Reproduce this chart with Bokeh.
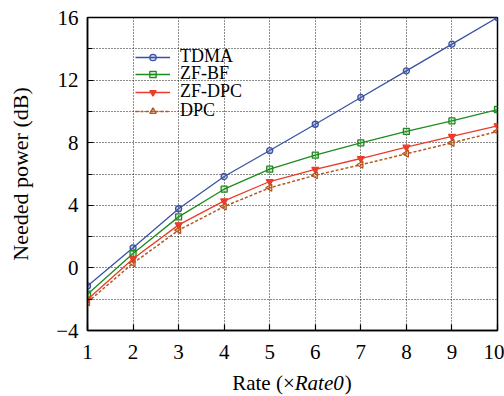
import numpy as np
from bokeh.plotting import figure
from bokeh.layouts import column
from bokeh.models import (Range1d, FixedTicker, Legend, LegendItem)
from bokeh.core.properties import value
from bokeh.embed import file_html
from bokeh.resources import INLINE

rate = [1, 2, 3, 4, 5, 6, 7, 8, 9, 10]
tdma = [-1.15, 1.28, 3.78, 5.84, 7.50, 9.18, 10.89, 12.59, 14.30, 16.0]
zfbf = [-1.68, 0.92, 3.26, 5.03, 6.31, 7.20, 7.99, 8.72, 9.40, 10.12]
zfdpc = [-2.02, 0.58, 2.75, 4.28, 5.52, 6.29, 6.99, 7.71, 8.40, 9.08]
dpc = [-2.19, 0.30, 2.41, 3.92, 5.12, 5.92, 6.59, 7.29, 7.99, 8.72]
series_names = ["TDMA", "ZF-BF", "ZF-DPC", "DPC"]
y_major = [-4, 0, 4, 8, 12, 16]
y_minor = [-2, 2, 6, 10, 14]
y_grid = [-4, -2, 0, 2, 4, 6, 8, 10, 12, 14, 16]
y_labels = {-4: "\u22124"}
x_ticks = [1, 2, 3, 4, 5, 6, 7, 8, 9, 10]
x_label_parts = ["Rate (\u00d7", "Rate0", ")"]

FONT = "Liberation Serif"

p = figure(width=504, height=372, output_backend="svg", toolbar_location=None,
           x_range=Range1d(1, 10), y_range=Range1d(-4, 16),
           min_border_left=87, min_border_right=7, min_border_top=17, min_border_bottom=42)
p.outline_line_color = "black"
p.outline_line_width = 1.5
p.background_fill_color = "white"

for ax in p.xaxis:
    ax.ticker = FixedTicker(ticks=x_ticks)
    ax.major_label_standoff = 14
for ax in p.yaxis:
    ax.ticker = FixedTicker(ticks=y_major, minor_ticks=y_minor)
    ax.major_label_overrides = y_labels
    ax.major_label_standoff = 9

for ax in list(p.xaxis) + list(p.yaxis):
    ax.major_tick_in = 6
    ax.major_tick_out = 0
    ax.minor_tick_in = 5
    ax.minor_tick_out = 0
    ax.axis_line_color = "black"
    ax.axis_line_width = 1.5
    ax.major_tick_line_color = "black"
    ax.major_tick_line_width = 1.2
    ax.minor_tick_line_color = "black"
    ax.minor_tick_line_width = 1.2
    ax.major_label_text_font = FONT
    ax.major_label_text_font_size = "21px"
    ax.major_label_text_color = "black"

p.yaxis.axis_label = "Needed power (dB)"
p.yaxis.axis_label_text_font = FONT
p.yaxis.axis_label_text_font_style = "normal"
p.yaxis.axis_label_text_font_size = "22px"
p.yaxis.axis_label_text_color = "black"
p.yaxis.axis_label_standoff = 20

for g in [p.xgrid[0], p.ygrid[0]]:
    g.grid_line_color = "black"
    g.grid_line_dash = "1 2"
    g.grid_line_width = 1
    g.grid_line_alpha = 0.9
p.xgrid[0].ticker = FixedTicker(ticks=x_ticks)
p.ygrid[0].ticker = FixedTicker(ticks=y_grid)

c_tdma = "#3a52a4"
c_zfbf = "#1e8c1e"
c_zfdpc = "#ec3b2c"
c_dpc = "#b4561e"

r1 = p.line(rate, tdma, line_color=c_tdma, line_width=1.3)
m1 = p.scatter(rate, tdma, marker="circle", size=6, line_color=c_tdma, fill_color=c_tdma, fill_alpha=0.25, line_width=1.3)
r2 = p.line(rate, zfbf, line_color=c_zfbf, line_width=1.3)
m2 = p.scatter(rate, zfbf, marker="square", size=6, line_color=c_zfbf, fill_color=c_zfbf, fill_alpha=0.2, line_width=1.3)
r3 = p.line(rate, zfdpc, line_color=c_zfdpc, line_width=1.3)
m3 = p.scatter(rate, zfdpc, marker="inverted_triangle", size=7, line_color=c_zfdpc, fill_color=c_zfdpc, line_width=1.2)
r4 = p.line(rate, dpc, line_color=c_dpc, line_width=1.5, line_dash="3 2")
m4 = p.scatter(rate, dpc, marker="triangle", angle=np.pi / 2, size=7, line_color=c_dpc, fill_color=c_dpc, fill_alpha=0.2, line_width=1.3)

# one single-entry legend per row so the row pitch matches the reference
legend_rows = [([r1, m1], 263), ([r2, m2], 246), ([r3, m3], 228), ([r4, m4], 209)]
for name, (rends, ypos) in zip(series_names, legend_rows):
    lg = Legend(items=[LegendItem(label=name, renderers=rends)], location=(48, ypos))
    lg.label_text_font = FONT
    lg.label_text_font_size = "18px"
    lg.label_text_color = "black"
    lg.glyph_width = 35
    lg.glyph_height = 16
    lg.label_height = 16
    lg.spacing = 0
    lg.padding = 0
    lg.margin = 0
    lg.label_standoff = 10
    lg.border_line_color = None
    lg.background_fill_alpha = 0
    p.add_layout(lg, "center")

# x axis title strip (mixed upright / italic text)
p2 = figure(width=504, height=24, output_backend="svg", toolbar_location=None,
            x_range=p.x_range, y_range=Range1d(0, 1),
            min_border_left=87, min_border_right=7, min_border_top=0, min_border_bottom=0)
p2.axis.visible = False
p2.grid.visible = False
p2.outline_line_color = None
txt_kw = dict(text_font=value(FONT), text_font_size="21px", text_color="black", text_baseline="middle")
p2.text(x=[5.55], y=[0.58], text=[x_label_parts[0]], text_align="right", **txt_kw)
p2.text(x=[5.55], y=[0.58], text=[x_label_parts[1]], text_align="left", text_font_style="italic", **txt_kw)
p2.text(x=[6.645], y=[0.58], text=[x_label_parts[2]], text_align="left", **txt_kw)

layout = column(p, p2, spacing=0)
open("out.html", "w").write(file_html(layout, INLINE))
